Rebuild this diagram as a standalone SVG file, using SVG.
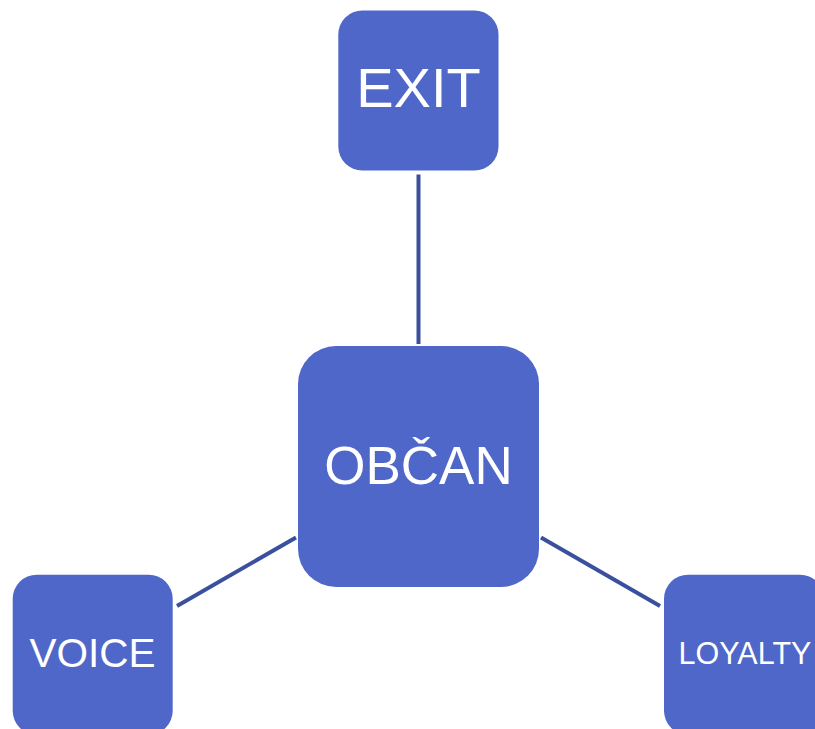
<svg xmlns="http://www.w3.org/2000/svg" width="815" height="729" viewBox="0 0 815 729">
<style>
.n{fill:#4f67c9}
.t{fill:#fff;font-family:"Liberation Sans",Arial,sans-serif;text-anchor:middle}
.c{stroke:#3a509f;stroke-width:4;fill:none}
</style>
<rect width="815" height="729" fill="#fff"/>
<g id="connectors">
<line class="c" x1="418.500" y1="174.500" x2="418.500" y2="344"/>
<line class="c" x1="296" y1="537.500" x2="177" y2="606"/>
<line class="c" x1="541" y1="537.500" x2="660" y2="606"/>
</g>
<g id="exit"><rect class="n" x="338.300" y="10.500" width="160.200" height="160" rx="24"/><text class="t" x="418.500" y="107" font-size="56">EXIT</text></g>
<g id="obcan"><rect class="n" x="298" y="346" width="241" height="241" rx="38"/><text class="t" x="418.500" y="483.500" font-size="53">OBČAN</text></g>
<g id="voice"><rect class="n" x="12.700" y="574.700" width="160" height="160" rx="24"/><text class="t" x="92.500" y="667" font-size="40.500">VOICE</text></g>
<g id="loyalty"><rect class="n" x="664" y="574.700" width="160" height="160" rx="24"/><text class="t" x="745" y="664.300" font-size="30.500">LOYALTY</text></g>
</svg>
